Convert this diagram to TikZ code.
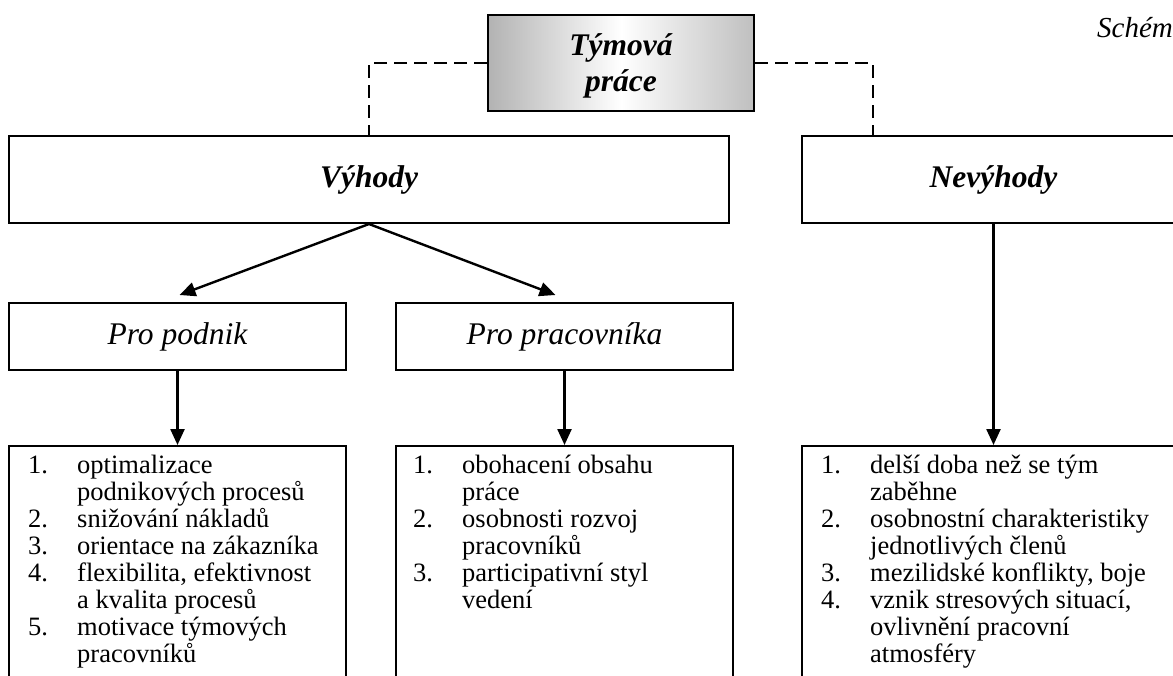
\documentclass[tikz,border=0pt]{standalone}
\usepackage{fontspec}
\setmainfont{Liberation Serif}
\usetikzlibrary{arrows.meta,calc}
\newcommand{\itm}[1]{\makebox[49pt][l]{#1}}
\newcommand{\fst}{\rule{0pt}{20pt}}
\begin{document}
\begin{tikzpicture}[x=1pt,y=-1pt,
  box/.style={draw,line width=2pt,rectangle,inner sep=0pt,anchor=north west},
  head/.style={font=\fontsize{31.5}{36}\selectfont\bfseries\itshape},
  sub/.style={font=\fontsize{31.5}{35}\selectfont\itshape},
  lst/.style={font=\fontsize{26.5}{27}\selectfont, align=left, anchor=north west, inner sep=0pt},
  arr/.style={line width=2.4pt,-{Triangle[length=16pt,width=14pt]}},
  dsh/.style={line width=2pt,dash pattern=on 13pt off 7pt}
]
\useasboundingbox (0,0) rectangle (1173,675);
\clip (0,0) rectangle (1173,675);

% title
\node[draw,line width=2pt,minimum width=266pt,minimum height=96pt,inner sep=0pt,
  left color=gray!60,right color=gray!50,middle color=white] (tp) at (621,63) {};
\node[head,align=center] (tpt) at ([yshift=-3pt]tp.center) {Týmová\\práce};
\node[anchor=base west,inner sep=0pt,font=\fontsize{29}{31}\selectfont\itshape] (sch) at (1097,37) {Schém};

% level 1
\node[box,minimum width=720pt,minimum height=87pt] (vy) at (8,135) {};
\node[head] (vyt) at (vy.center) {Výhody};
\node[box,minimum width=383pt,minimum height=87pt] (nv) at (801,135) {};
\node[head] (nvt) at (nv.center) {Nevýhody};

% level 2
\node[box,minimum width=337pt,minimum height=67pt] (pp) at (8,302) {};
\node[sub] (ppt) at (pp.center) {Pro podnik};
\node[box,minimum width=337pt,minimum height=67pt] (pw) at (395,302) {};
\node[sub] (pwt) at (pw.center) {Pro pracovníka};

% level 3
\node[box,minimum width=337pt,minimum height=300pt] (l1) at (8,445) {};
\node[box,minimum width=337pt,minimum height=300pt] (l2) at (395,445) {};
\node[box,minimum width=383pt,minimum height=300pt] (l3) at (801,445) {};

\node[lst] (t1) at (28,453) {\fst\itm{1.}optimalizace\\
\itm{}podnikových procesů\\
\itm{2.}snižování nákladů\\
\itm{3.}orientace na zákazníka\\
\itm{4.}flexibilita, efektivnost\\
\itm{}a kvalita procesů\\
\itm{5.}motivace týmových\\
\itm{}pracovníků};

\node[lst] (t2) at (413,453) {\fst\itm{1.}obohacení obsahu\\
\itm{}práce\\
\itm{2.}osobnosti rozvoj\\
\itm{}pracovníků\\
\itm{3.}participativní styl\\
\itm{}vedení};

\node[lst] (t3) at (821,453) {\fst\itm{1.}delší doba než se tým\\
\itm{}zaběhne\\
\itm{2.}osobnostní charakteristiky\\
\itm{}jednotlivých členů\\
\itm{3.}mezilidské konflikty, boje\\
\itm{4.}vznik stresových situací,\\
\itm{}ovlivnění pracovní\\
\itm{}atmosféry};

% connectors
\draw[dsh] (tp.west) -| (vy.north);
\coordinate (nvd) at ($(nv.north west)+(72,0)$);
\draw[dsh] (tp.east) -| (nvd);
\coordinate (ppa) at ($(pp.north)+(2,-7)$);
\coordinate (pwa) at ($(pw.north)+(-9,-7)$);
\draw[arr] (vy.south) -- (ppa);
\draw[arr] (vy.south) -- (pwa);
\draw[arr] (pp.south) -- (l1.north);
\draw[arr] (pw.south) -- (l2.north);
\draw[arr] (nv.south) -- (l3.north);
\end{tikzpicture}
\end{document}
